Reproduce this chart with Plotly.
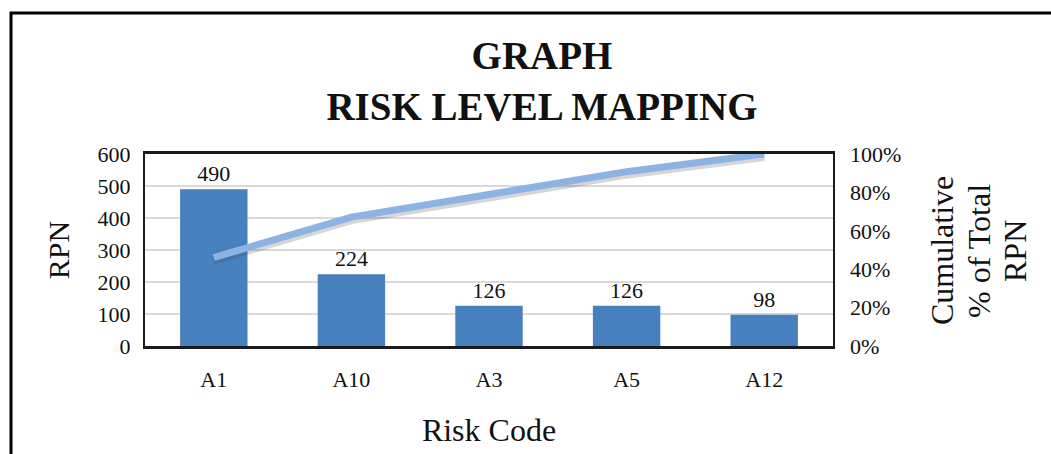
import plotly.graph_objects as go

# Pareto data: risk codes, their RPN scores and the cumulative share of total RPN
risk_codes = ["A1", "A10", "A3", "A5", "A12"]
rpn_values = [490, 224, 126, 126, 98]
cumulative_pct = [46.1, 67.1, 78.9, 90.8, 100.0]

rpn_ticks = [0, 100, 200, 300, 400, 500, 600]
pct_ticks = [0, 20, 40, 60, 80, 100]
pct_labels = [f"{v}%" for v in pct_ticks]
right_title_lines = ["Cumulative", "% of Total", "RPN"]

SERIF = "Liberation Serif, Times New Roman, serif"
BAR_COLOR = "#4780BE"
LINE_COLOR = "#8DB3E2"

W, H = 1051, 454
M_L, M_R, M_T, M_B = 145, 218, 154, 108
PW, PH = W - M_L - M_R, H - M_T - M_B


def px_x(x):
    return (x - M_L) / PW


def px_y(y):
    return (H - M_B - y) / PH


fig = go.Figure()

fig.add_trace(go.Bar(
    x=risk_codes, y=rpn_values,
    marker=dict(color=BAR_COLOR, line=dict(width=0)),
    text=rpn_values, textposition="outside",
    textfont=dict(family=SERIF, size=22, color="#111"),
    cliponaxis=False, yaxis="y", showlegend=False,
))

# percentage axis carrier (transparent, keeps the right-hand scale drawn)
fig.add_trace(go.Scatter(
    x=risk_codes, y=cumulative_pct, mode="lines",
    line=dict(color="rgba(0,0,0,0)", width=0),
    yaxis="y2", showlegend=False, hoverinfo="skip",
))

# soft drop shadow under the cumulative line (same data, axis nudged a few px down)
shift = 3 * 100 / PH
fig.add_trace(go.Scatter(
    x=risk_codes, y=cumulative_pct, mode="lines",
    line=dict(color="rgba(70,70,70,0.22)", width=8),
    yaxis="y3", showlegend=False, hoverinfo="skip",
))

fig.add_trace(go.Scatter(
    x=risk_codes, y=cumulative_pct, mode="lines",
    line=dict(color=LINE_COLOR, width=7),
    yaxis="y4", showlegend=False,
))

annotations = []
for text, xp in zip(right_title_lines, [942, 979, 1015]):
    annotations.append(dict(
        text=text, textangle=-90, showarrow=False,
        xref="paper", yref="paper", x=px_x(xp), y=px_y(251),
        xanchor="center", yanchor="middle",
        font=dict(family=SERIF, size=32, color="#111"),
    ))

fig.update_layout(
    width=W, height=H,
    margin=dict(l=M_L, r=M_R, t=M_T, b=M_B),
    paper_bgcolor="white", plot_bgcolor="white",
    bargap=0.51,
    font=dict(family=SERIF, color="#111"),
    title=dict(
        text="<b>GRAPH<br>RISK LEVEL MAPPING</b>",
        font=dict(family=SERIF, size=39, color="#111"),
        x=542 / W, xref="container", xanchor="center",
        y=1 - 69 / H, yref="container", yanchor="middle",
    ),
    xaxis=dict(
        title=dict(text="Risk Code", font=dict(size=32), standoff=28),
        tickfont=dict(size=22), ticklabelstandoff=12, automargin=False,
        showline=True, linecolor="#1a1a1a", linewidth=3, mirror=True,
        ticks="", showgrid=False,
    ),
    yaxis=dict(
        title=dict(text="RPN", font=dict(size=30), standoff=19),
        range=[0, 600], tickvals=rpn_ticks, tickfont=dict(size=22),
        ticklabelstandoff=8, automargin=False,
        showline=True, linecolor="#1a1a1a", linewidth=2, mirror=True,
        showgrid=True, gridcolor="#D9D9D9", gridwidth=1.5,
        zeroline=False, ticks="",
    ),
    yaxis2=dict(
        range=[0, 100], tickmode="array", tickvals=pct_ticks, ticktext=pct_labels,
        tickfont=dict(size=22), automargin=False,
        overlaying="y", side="right", showgrid=False, zeroline=False,
        showline=False, ticks="", ticklabelstandoff=16,
    ),
    yaxis3=dict(range=[0 + shift, 100 + shift], overlaying="y", visible=False),
    yaxis4=dict(range=[0, 100], overlaying="y", visible=False),
    annotations=annotations,
    shapes=[dict(
        type="rect", xref="paper", yref="paper",
        x0=px_x(11), x1=px_x(1070), y0=px_y(480), y1=px_y(13),
        line=dict(color="black", width=3), fillcolor="rgba(0,0,0,0)",
        layer="below",
    )],
)

fig.write_html("out.html")
